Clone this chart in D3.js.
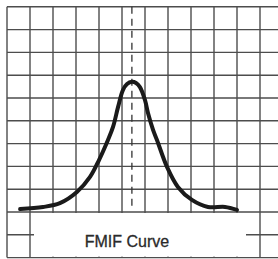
<!DOCTYPE html>
<meta charset="utf-8">
<head>
  <title>FMIF Curve</title>
</head>
<style>
body {
  margin: 0;
  background: white;
}
svg {
  display: block;
}
.grid line {
  stroke: #4d4d4d;
  stroke-width: 1.4;
}
.label {
  font-family: "Liberation Sans", Arial, sans-serif;
  font-size: 16px;
  fill: #2a2a2a;
  stroke: #2a2a2a;
  stroke-width: 0.3;
  text-anchor: middle;
}
</style>
<body>
<div id="chart"></div>
<script src="https://cdnjs.cloudflare.com/ajax/libs/d3/7.8.5/d3.min.js"></script>
<script>
// curve, in grid divisions (x from left frame, y from baseline)
var curveX = [0.57, 1.57, 2.30, 3.04, 3.61, 4.00, 4.39, 4.61, 4.83, 5.04, 5.22, 5.43, 5.61, 5.78, 6.00, 6.13, 6.35, 6.52, 6.96, 7.43, 8.04, 8.74, 9.48, 10.0]
var curveY = [0.13, 0.22, 0.39, 0.88, 1.54, 2.28, 3.16, 3.73, 4.61, 5.35, 5.61, 5.71, 5.66, 5.48, 4.91, 4.34, 3.60, 3.16, 1.97, 1.10, 0.53, 0.22, 0.22, 0.09]
var centerX = 5.43
var xTicks = d3.range(0, 12)      // vertical grid lines
var yTicks = d3.range(-2, 10)     // horizontal grid lines (below 0 = label strip)
var labelText = "FMIF Curve"

var width = 278, height = 259

var x = d3.scaleLinear().domain([0, 11]).range([7, 260])
var y = d3.scaleLinear().domain([0, 9]).range([212, 6.8])

var svg = d3.select("#chart").append("svg")
    .attr("width", width)
    .attr("height", height)

var grid = svg.append("g").attr("class", "grid")

grid.selectAll(".v")
  .data(xTicks)
  .enter().append("line")
    .attr("class", "v")
    .attr("x1", function(d) { return x(d) })
    .attr("x2", function(d) { return x(d) })
    .attr("y1", y(9))
    .attr("y2", y(-2))

grid.selectAll(".h")
  .data(yTicks)
  .enter().append("line")
    .attr("class", "h")
    .attr("x1", x(0))
    .attr("x2", width)
    .attr("y1", function(d) { return y(d) })
    .attr("y2", function(d) { return y(d) })

// white label strip hides the grid under the title
svg.append("rect")
    .attr("x", 34)
    .attr("y", y(0) + 1)
    .attr("width", 212)
    .attr("height", y(-2) - y(0) - 2)
    .attr("fill", "white")

svg.append("text")
    .attr("class", "label")
    .attr("x", 127)
    .attr("y", 247)
    .text(labelText)

// dashed centre line
svg.append("line")
    .attr("x1", x(centerX))
    .attr("x2", x(centerX))
    .attr("y1", y(9))
    .attr("y2", y(0.2))
    .attr("stroke", "#333")
    .attr("stroke-width", 1.3)
    .attr("stroke-dasharray", "7,5")

var pts = curveX.map(function(d, i) { return [d, curveY[i]] })
var line = d3.line()
    .x(function(d) { return x(d[0]) })
    .y(function(d) { return y(d[1]) })
    .curve(d3.curveCatmullRom)

svg.append("path")
    .datum(pts)
    .attr("d", line)
    .attr("fill", "none")
    .attr("stroke", "#1a1a1a")
    .attr("stroke-width", 4)
    .attr("stroke-linejoin", "round")
    .attr("stroke-linecap", "round")
</script>
</body>
</html>
